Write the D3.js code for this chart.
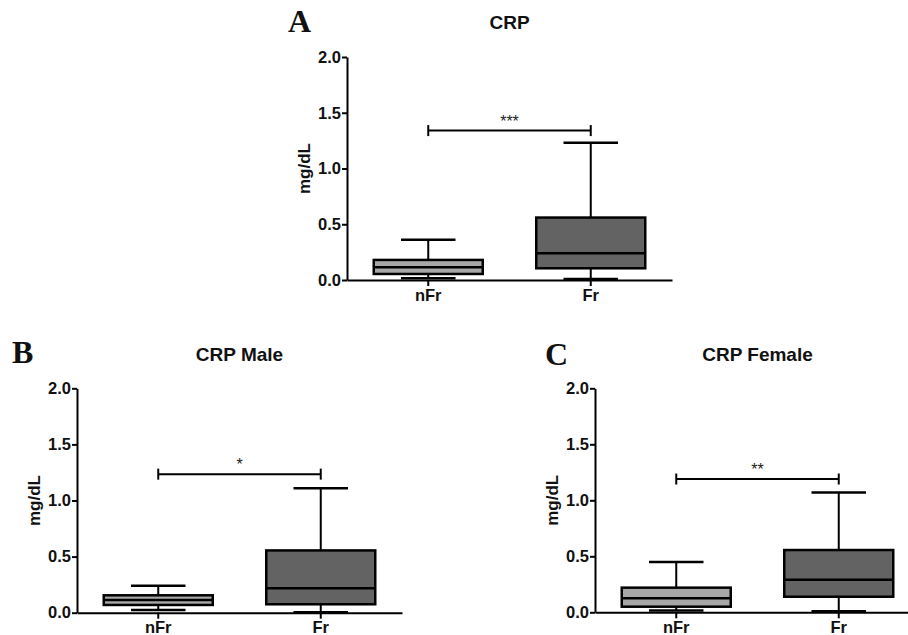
<!DOCTYPE html>
<html>
<head>
<meta charset="utf-8">
<script src="https://cdn.jsdelivr.net/npm/d3@7"></script>
<style>
  html, body { margin: 0; padding: 0; background: #fff; }
  svg { display: block; }
</style>
</head>
<body>
<svg id="chart" width="908" height="635"></svg>
<script>
// ---------- DATA ----------
const categories = ["nFr", "Fr"];
const panelLetters = ["A", "B", "C"];
const panelTitles = ["CRP", "CRP Male", "CRP Female"];
const yTickValues = [0, 0.5, 1.0, 1.5, 2.0];
const yAxisLabel = "mg/dL";
// box stats: [whisker low, Q1, median, Q3, whisker high]
const crpAllNFr    = [0.015, 0.054, 0.114, 0.18, 0.36];
const crpAllFr     = [0.01, 0.105, 0.24, 0.56, 1.23];
const crpMaleNFr   = [0.024, 0.069, 0.113, 0.155, 0.24];
const crpMaleFr    = [0.004, 0.075, 0.217, 0.555, 1.11];
const crpFemaleNFr = [0.015, 0.05, 0.125, 0.22, 0.45];
const crpFemaleFr  = [0.01, 0.139, 0.291, 0.556, 1.07];
const sigBarValues = [1.34, 1.235, 1.19];
const sigLabels = ["***", "*", "**"];

// ---------- LAYOUT ----------
const panels = [
  { x: 347, top: 57,    bottom: 280,   stats: [crpAllNFr, crpAllFr],
    letterX: 288, letterY: 32, titleY: 29 },
  { x: 77,  top: 388.3, bottom: 612.7, stats: [crpMaleNFr, crpMaleFr],
    letterX: 12, letterY: 363, titleY: 361 },
  { x: 595, top: 388.3, bottom: 612.3, stats: [crpFemaleNFr, crpFemaleFr],
    letterX: 545, letterY: 365, titleY: 361 }
];
const plotW = 325;
const fills = ["#a7a7a7", "#636363"];
const font = "'Liberation Sans', Arial, sans-serif";

const svg = d3.select("#chart");

panels.forEach((p, i) => {
  const g = svg.append("g").attr("transform", `translate(${p.x},0)`);
  const y = d3.scaleLinear().domain([0, 2]).range([p.bottom, p.top]);
  const x = d3.scaleBand().domain(categories).range([0, plotW]).padding(0);
  const cx = c => x(c) + x.bandwidth() / 2;
  const boxW = 109;

  // Y axis
  const yAx = g.append("g")
    .call(d3.axisLeft(y).tickValues(yTickValues).tickFormat(d3.format(".1f"))
      .tickSize(5).tickSizeOuter(0).tickPadding(1));
  yAx.select(".domain").attr("stroke", "#000").attr("stroke-width", 2);
  yAx.selectAll(".tick line").attr("stroke", "#000").attr("stroke-width", 2);
  yAx.selectAll(".tick text").attr("font-family", font).attr("font-weight", "bold")
    .attr("font-size", 16.5).attr("fill", "#111");

  // X axis
  const xAx = g.append("g").attr("transform", `translate(0,${p.bottom})`)
    .call(d3.axisBottom(x).tickSize(6).tickSizeOuter(0).tickPadding(3));
  xAx.select(".domain").attr("stroke", "#000").attr("stroke-width", 2);
  xAx.selectAll(".tick line").attr("stroke", "#000").attr("stroke-width", 2);
  xAx.selectAll(".tick text").attr("font-family", font).attr("font-weight", "bold")
    .attr("font-size", 16.5).attr("fill", "#111");

  // Y label
  g.append("text")
    .attr("transform", `translate(-37,${(p.top + p.bottom) / 2}) rotate(-90)`)
    .attr("text-anchor", "middle")
    .attr("font-family", font).attr("font-weight", "bold").attr("font-size", 17)
    .attr("fill", "#111")
    .text(yAxisLabel);

  // Boxes
  categories.forEach((c, k) => {
    const s = p.stats[k];
    const c0 = cx(c);
    const bg = g.append("g");
    bg.append("line").attr("x1", c0).attr("x2", c0)
      .attr("y1", y(s[0])).attr("y2", y(s[4]))
      .attr("stroke", "#000").attr("stroke-width", 2);
    [s[0], s[4]].forEach(v => {
      bg.append("line").attr("x1", c0 - boxW / 4).attr("x2", c0 + boxW / 4)
        .attr("y1", y(v)).attr("y2", y(v))
        .attr("stroke", "#000").attr("stroke-width", 2.5);
    });
    bg.append("rect").attr("x", c0 - boxW / 2).attr("width", boxW)
      .attr("y", y(s[3])).attr("height", y(s[1]) - y(s[3]))
      .attr("fill", fills[k]).attr("stroke", "#000").attr("stroke-width", 2.5);
    bg.append("line").attr("x1", c0 - boxW / 2).attr("x2", c0 + boxW / 2)
      .attr("y1", y(s[2])).attr("y2", y(s[2]))
      .attr("stroke", "#000").attr("stroke-width", 2.5);
  });

  // significance bar
  const sy = y(sigBarValues[i]);
  const xa = cx(categories[0]), xb = cx(categories[1]);
  g.append("line").attr("x1", xa).attr("x2", xb).attr("y1", sy).attr("y2", sy)
    .attr("stroke", "#000").attr("stroke-width", 2);
  [xa, xb].forEach(xx => {
    g.append("line").attr("x1", xx).attr("x2", xx).attr("y1", sy - 5.5).attr("y2", sy + 5.5)
      .attr("stroke", "#000").attr("stroke-width", 2);
  });
  g.append("text").attr("x", (xa + xb) / 2).attr("y", sy - 4)
    .attr("text-anchor", "middle").attr("font-family", font)
    .attr("font-size", 16).attr("fill", "#222")
    .text(sigLabels[i]);

  // Title
  g.append("text").attr("x", (xa + xb) / 2).attr("y", p.titleY)
    .attr("text-anchor", "middle").attr("font-family", font).attr("font-weight", "bold")
    .attr("font-size", 19).attr("fill", "#111")
    .text(panelTitles[i]);

  // Panel letter
  svg.append("text").attr("x", p.letterX).attr("y", p.letterY)
    .attr("font-family", "'Liberation Serif', 'Times New Roman', serif")
    .attr("font-weight", "bold").attr("font-size", 32).attr("fill", "#111")
    .text(panelLetters[i]);
});
</script>
</body>
</html>
